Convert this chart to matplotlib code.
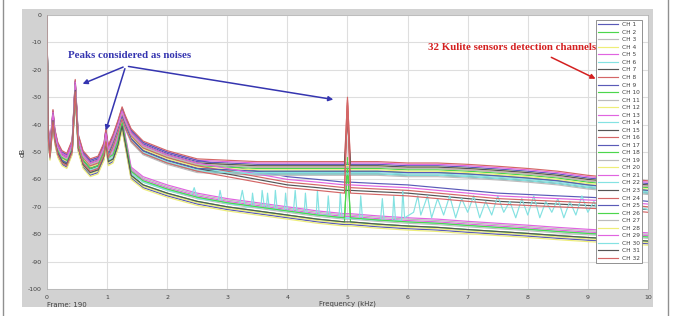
import matplotlib
matplotlib.use("Agg")
import matplotlib.pyplot as plt
from matplotlib.patches import Rectangle

plt.rcParams["axes.unicode_minus"] = False

# frequency break points (kHz)
freq = [0, 0.02, 0.05, 0.1, 0.13, 0.18, 0.25, 0.33, 0.42, 0.47, 0.52, 0.6, 0.72,
        0.85, 0.95, 0.98, 1.02, 1.1, 1.18, 1.25, 1.3, 1.4, 1.6, 2.0, 2.5, 3.0,
        3.5, 4.0, 4.5, 4.95, 5.0, 5.05, 5.5, 6.0, 6.5, 7.0, 7.5, 8.0, 8.5, 9.0,
        9.5, 10.0]

# level of the three channel bundles (dB)
high_db = [0, -43, -50, -37, -44, -49, -52, -53, -48, -26, -46, -52, -55, -54,
           -49, -44, -50, -46, -41, -36, -39, -44, -48.5, -52, -55, -55.5, -56,
           -56, -56, -56, -56, -56, -56, -56.5, -56.5, -57, -57.7, -58.5, -59.5,
           -61, -62, -63]
mid_db = [0, -43, -50, -37, -44, -49, -52, -53, -48, -26, -46, -52, -55, -54,
          -49, -44, -50, -46, -41, -36, -39, -44, -48.5, -52, -55, -57, -59,
          -61, -62, -63, -63, -63, -63.5, -64, -65, -66, -67, -67.5, -68, -68.5,
          -69, -70]
low_db = [0, -43, -51, -38, -45, -50, -53, -54, -49, -27, -48, -54, -57, -56,
          -51, -46, -53, -52, -47, -40, -46, -58, -61.5, -64.5, -67.5, -69.5,
          -71, -72.5, -74, -75, -75, -75, -75.8, -76.5, -77, -77.8, -78.5,
          -79.2, -80, -80.7, -81.3, -82]

# CH 22 (spiky cyan trace) above 1.4 kHz
spiky_freq = [1.6, 2.0, 2.4, 2.45, 2.5, 2.85, 2.88, 2.92, 3.2, 3.25, 3.3, 3.4,
              3.42, 3.45, 3.56, 3.58, 3.62, 3.65, 3.67, 3.7, 3.78, 3.8, 3.83,
              3.95, 3.97, 4.0, 4.1, 4.13, 4.16, 4.28, 4.3, 4.33, 4.48, 4.5, 4.53,
              4.66, 4.68, 4.71, 4.86, 4.88, 4.91, 5.2, 5.22, 5.25, 5.55, 5.58,
              5.61, 5.75, 5.77, 5.8, 5.9, 5.92, 5.95, 6.1, 6.17, 6.22, 6.3, 6.33,
              6.4, 6.5, 6.6, 6.7, 6.8, 6.9, 7.0, 7.1, 7.2, 7.3, 7.4, 7.5, 7.6,
              7.7, 7.8, 7.9, 8.0, 8.1, 8.2, 8.3, 8.4, 8.5, 8.6, 8.7, 8.8, 8.9,
              9.0, 9.1, 9.2, 9.4, 9.6, 9.8, 10.0]
spiky_db = [-61, -64, -66, -63, -67, -68, -64, -68.5, -69.5, -64, -70, -70, -65,
            -70, -70.5, -64, -70.5, -70.5, -65, -71, -71, -64, -71, -71.5, -65,
            -71.5, -72, -64, -72, -72.5, -65, -72.5, -73, -64, -73, -73, -66,
            -73.5, -74, -65, -74, -74.5, -66, -74.5, -75, -67, -75, -75, -66,
            -75, -75, -64, -74, -72, -66, -73, -68, -66, -74, -67, -73, -66,
            -74, -67, -72, -66, -74, -68, -73, -66, -72, -68, -74, -67, -73,
            -66, -74, -68, -72, -67, -74, -68, -73, -66, -72, -68, -74, -70,
            -72, -70, -71]

channels = ["CH %d" % i for i in range(1, 33)]
group = ["H", "H", "L", "L", "H", "L", "H", "H",
         "M", "L", "H", "H", "L", "H", "M", "H",
         "L", "H", "L", "H", "L", "C", "H", "M",
         "H", "L", "H", "L", "M", "H", "L", "M"]
offset = [1.5, -1, 0.5, -1, 2, 1, -2, 0.5,
          2, -0.5, -2.5, 1, 1.5, -1.5, -1, 2.5,
          -1.5, 0, 2, -0.5, 2.5, 0, 1, 0,
          -1, 1, 0.5, -2, 1, -2, -0.5, -2]
# value at 5 kHz for channels that show the tone (None = no tone)
peak_db = [None, None, None, None, None, None, -35, -30,
           None, -52, None, None, None, None, None, -31,
           None, None, None, None, None, None, -38, -33,
           None, -56, None, None, None, None, None, -32]

colors = ["#5a5ab8", "#4cd64c", "#bcbcbc", "#eeee78", "#e064e0", "#84e2e2",
          "#555555", "#d46666"]

fig = plt.figure(figsize=(6.74, 3.16), dpi=100)
fig.patches.append(Rectangle((0.0326, 0.0285), 0.936, 0.943, transform=fig.transFigure,
                             facecolor="#d2d2d2", edgecolor="none", zorder=-2))
fig.patches.append(Rectangle((0.0045, -0.01), 0.986, 1.02, transform=fig.transFigure,
                             facecolor="none", edgecolor="#909090", lw=1, zorder=-1))

ax = fig.add_axes([0.0697, 0.0854, 0.8917, 0.867])
ax.set_facecolor("white")

profiles = {"H": high_db, "M": mid_db, "L": low_db}
for i, ch in enumerate(channels):
    g = group[i]
    if g == "C":
        x = freq[:22] + spiky_freq
        y = [v + offset[i] for v in low_db[:22]] + spiky_db
    else:
        x = freq
        y = [v + offset[i] if k > 0 else v for k, v in enumerate(profiles[g])]
        if peak_db[i] is not None:
            y[30] = peak_db[i]
    ax.plot(x, y, color=colors[i % 8], lw=0.85, label=ch)

ax.set_xlim(0, 10)
ax.set_ylim(-100, 0)
ax.set_xticks(range(0, 11))
ax.set_yticks(range(-100, 1, 10))
ax.grid(True, color="#dedede", lw=0.8)
ax.set_axisbelow(True)
ax.tick_params(length=0, labelsize=4.5, labelcolor="#404040", pad=4)
for s in ax.spines.values():
    s.set_color("#b0b0b0")
    s.set_linewidth(0.5)

ax.set_xlabel("Frequency (kHz)", fontsize=5, color="#404040", labelpad=1)
ax.set_ylabel("dB", fontsize=5, color="#404040")
ax.yaxis.set_label_coords(-0.035, 0.5)
fig.text(0.0697, 0.03, "Frame: 190", fontsize=5, color="#404040")

leg = ax.legend(loc="upper right", bbox_to_anchor=(0.995, 0.993), fontsize=4.2,
                labelspacing=0.42, handlelength=3.4, handletextpad=0.6,
                borderpad=0.4, fancybox=False, framealpha=1, edgecolor="#808080")
leg.get_frame().set_linewidth(0.6)
for t in leg.get_texts():
    t.set_color("#404040")

blue = "#3535b0"
ax.text(0.35, -15.5, "Peaks considered as noises", color=blue, fontsize=7.8,
        fontweight="bold", family="Liberation Serif")
for tx, ty in [(0.55, -25.5), (0.965, -43.1), (4.81, -31.0)]:
    ax.annotate("", xy=(tx, ty), xytext=(1.31, -18.6),
                arrowprops=dict(arrowstyle="-|>", color=blue, lw=1.1, mutation_scale=7))

red = "#d42020"
ax.text(6.34, -12.6, "32 Kulite sensors detection channels", color=red, fontsize=7.8,
        fontweight="bold", family="Liberation Serif")
ax.annotate("", xy=(9.17, -23.7), xytext=(8.35, -15.0),
            arrowprops=dict(arrowstyle="-|>", color=red, lw=1.1, mutation_scale=7))

fig.savefig("out.png", dpi=100)
